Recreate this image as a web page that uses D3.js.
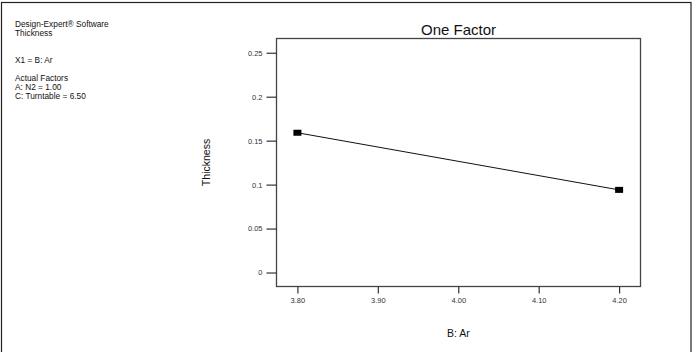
<!DOCTYPE html>
<html><head><meta charset="utf-8">
<script src="https://cdn.jsdelivr.net/npm/d3@7"></script>
<style>body{margin:0;background:#fff}svg{display:block}text{font-family:"Liberation Sans",Arial,sans-serif}</style>
</head><body>
<svg id="c" width="698" height="352"></svg>
<script>
const xValues = [3.80, 4.20];
const thickness = [0.159, 0.094];
const xTicks = [3.80, 3.90, 4.00, 4.10, 4.20];
const yTicks = [0, 0.05, 0.1, 0.15, 0.2, 0.25];
const infoLines = ["Design-Expert\u00ae Software", "Thickness", "", "", "X1 = B: Ar", "", "Actual Factors", "A: N2 = 1.00", "C: Turntable = 6.50"];

const svg = d3.select("#c");
svg.append("rect").attr("x",1.5).attr("y",2.5).attr("width",689.5).attr("height",360)
  .attr("fill","none").attr("stroke","#222").attr("stroke-width",1.2);

const L=276.5, R=640.5, T=38.5, B=286.5;
const x = d3.scaleLinear().domain([3.774, 4.2266]).range([L, R]);
const y = d3.scaleLinear().domain([-0.0159, 0.2662]).range([B, T]);

// info text
infoLines.forEach((t,i)=>{
  if (t) svg.append("text").attr("x",15).attr("y",26.7+i*9).attr("font-size",8.3).attr("fill","#111").text(t);
});

// plot box
svg.append("rect").attr("x",L).attr("y",T).attr("width",R-L).attr("height",B-T)
  .attr("fill","none").attr("stroke","#444").attr("stroke-width",1.3);

// y axis
const yAxis = d3.axisLeft(y).tickValues(yTicks).tickSize(10).tickPadding(4)
  .tickFormat(d=>d3.format("")(+d.toFixed(2)));
const gy = svg.append("g").attr("transform",`translate(${L},0)`).call(yAxis);
gy.select(".domain").remove();
gy.selectAll("line").attr("stroke","#333").attr("stroke-width",1.2);
gy.selectAll("text").attr("font-size",7.5).attr("fill","#333").attr("font-family","Liberation Sans, Arial, sans-serif");

// x axis
const xAxis = d3.axisBottom(x).tickValues(xTicks).tickSize(7).tickPadding(4).tickFormat(d3.format(".2f"));
const gx = svg.append("g").attr("transform",`translate(0,${B})`).call(xAxis);
gx.select(".domain").remove();
gx.selectAll("line").attr("stroke","#333").attr("stroke-width",1.2);
gx.selectAll("text").attr("font-size",7.5).attr("fill","#333").attr("font-family","Liberation Sans, Arial, sans-serif");

// line
const pts = xValues.map((v,i)=>[v, thickness[i]]);
svg.append("path").datum(pts)
  .attr("d", d3.line().x(d=>x(d[0])).y(d=>y(d[1])))
  .attr("fill","none").attr("stroke","#111").attr("stroke-width",1);
svg.selectAll(".m").data(pts).enter().append("rect")
  .attr("x",d=>x(d[0])-4).attr("y",d=>y(d[1])-3).attr("width",8).attr("height",6).attr("fill","#000");

// titles
svg.append("text").attr("x",(L+R)/2).attr("y",34.5).attr("text-anchor","middle").attr("font-size",15).attr("fill","#111").text("One Factor");
svg.append("text").attr("x",(L+R)/2).attr("y",337).attr("text-anchor","middle").attr("font-size",10.5).attr("fill","#111").text("B: Ar");
svg.append("text").attr("transform",`translate(210,${(T+B)/2}) rotate(-90)`).attr("text-anchor","middle").attr("font-size",10.5).attr("fill","#111").text("Thickness");
</script>
</body></html>
